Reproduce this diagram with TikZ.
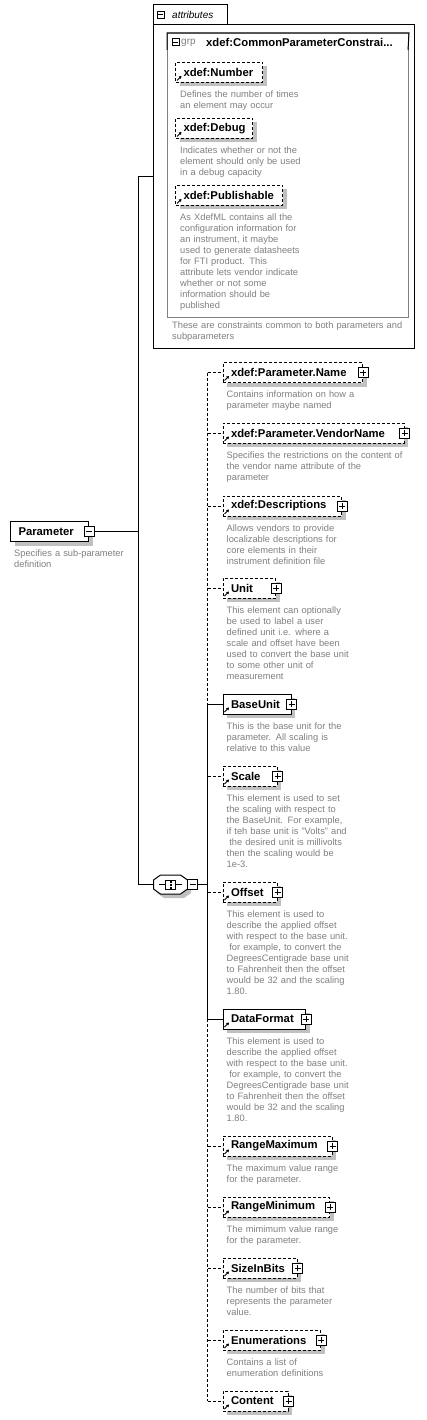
\documentclass[tikz,border=0pt]{standalone}
\usepackage{fontspec}
\setmainfont{Liberation Sans}
\usetikzlibrary{arrows.meta,shadows}
\definecolor{descgray}{RGB}{128,128,128}
\definecolor{shadowgray}{RGB}{192,192,192}
\newcommand\labfont{\fontsize{11.3pt}{13pt}\selectfont\bfseries}
\newcommand\descfont{\fontsize{9.3pt}{11pt}\selectfont}
\tikzset{
  conn/.style={line width=1pt, black},
  optconn/.style={conn, dash pattern=on 3pt off 2pt},
  elbox/.style={draw, line width=1pt, fill=white, anchor=north west, minimum height=20pt,
    inner xsep=8pt, inner ysep=0pt, align=left, font=\labfont,
    drop shadow={shadow xshift=4pt, shadow yshift=-4pt, fill=shadowgray, opacity=1}},
  reqbox/.style={elbox},
  optbox/.style={elbox, dash pattern=on 3pt off 2pt},
  iconbox/.style={draw, line width=1pt, fill=white, minimum size=10pt, inner sep=0pt},
  iconline/.style={line width=1pt},
  refarrow/.style={line width=1pt, -{Triangle[length=2.5pt,width=3pt]}},
  descnode/.style={anchor=north west, inner sep=0pt, align=left, text width=300pt,
    font=\descfont, text=descgray},
}
\newcommand\xel[6]{%
  \pgfmathsetmacro\xeltw{#5-16}%
  \node[#2, text width=\xeltw pt] (#1) at (#3,#4) {#6};%
  \draw[refarrow] ([xshift=2pt,yshift=2.5pt]#1.south west) -- ++(4.5pt,4.5pt);%
}
\newcommand\xplus[2]{%
  \node[iconbox] (#1) at (#2) {};%
  \draw[iconline] ([xshift=-3pt]#1.center) -- ([xshift=3pt]#1.center)
    ([yshift=-3pt]#1.center) -- ([yshift=3pt]#1.center);%
}
\newcommand\xminus[3][10pt]{%
  \node[iconbox, minimum size=#1] (#2) at (#3) {};%
  \draw[iconline] ([xshift=-0.3*#1]#2.center) -- ([xshift=0.3*#1]#2.center);%
}
\newcommand\xdesc[4]{%
  \node[descnode] (#1) at (#2,#3) {\rule{0pt}{8pt}#4};%
}
\begin{document}
\begin{tikzpicture}[x=1pt,y=-1pt]
\useasboundingbox[fill=white] (0,0) rectangle (426,1420);

% ---------- attributes container ----------
\node[draw, line width=1pt, anchor=north west, minimum width=261pt, minimum height=324pt, inner sep=0pt] (attr) at (153,24) {};
\draw[line width=1pt] (attr.north west) |- (227,5) -- (227,24);
\xminus[7pt]{tabm}{160.5,15}
\node[anchor=west, inner sep=0pt, font=\fontsize{10pt}{12pt}\selectfont\itshape] (tabt) at (172,15) {attributes};

\node[draw=descgray, line width=1pt, anchor=north west, minimum width=241pt, minimum height=284pt, inner sep=0pt] (grp) at (167,33) {};
\draw[line width=1pt] (167,50) -- (grp.north west) -- (grp.north east) -- (408,50);
\xminus[7pt]{grpm}{175.5,42.5}
\node[anchor=west, inner sep=0pt, font=\fontsize{10pt}{12pt}\selectfont, text=descgray] (grpk) at (181,42.5) {grp};
\node[anchor=west, inner sep=0pt, font=\labfont] (grpn) at (206,42.5) {xdef:CommonParameterConstrai...};

\xel{anum}{optbox}{175}{62}{87}{xdef:Number}
\xdesc{dnum}{180}{89.5}{Defines the number of times\\an element may occur}
\xel{adbg}{optbox}{175}{118}{77}{xdef:Debug}
\xdesc{ddbg}{180}{145.5}{Indicates whether or not the\\element should only be used\\in a debug capacity}
\xel{apub}{optbox}{175}{185}{107}{xdef:Publishable}
\xdesc{dpub}{180}{212.5}{As XdefML contains all the\\configuration information for\\an instrument, it maybe\\used to generate datasheets\\for FTI product.  This\\attribute lets vendor indicate\\whether or not some\\information should be\\published}
\xdesc{dattr}{172}{320}{These are constraints common to both parameters and\\subparameters}

% ---------- root ----------
\node[reqbox, text width=62pt, inner xsep=8pt] (root) at (10,521) {Parameter};
\xminus{rootm}{root.east}
\xdesc{droot}{14}{548.5}{Specifies a sub-parameter\\definition}

% ---------- sequence compositor ----------
\node[minimum width=34pt, minimum height=19pt, inner sep=0pt] (seq) at (170.5,884.5) {};
\fill[shadowgray, shift={(3.5,4)}] (160.5,875) -- (180.5,875) -- (187.5,880) -- (187.5,889) -- (180.5,894) -- (160.5,894) -- (153.5,889) -- (153.5,880) -- cycle;
\draw[line width=1pt, fill=white] (160.5,875) -- (180.5,875) -- (187.5,880) -- (187.5,889) -- (180.5,894) -- (160.5,894) -- (153.5,889) -- (153.5,880) -- cycle;
\draw[line width=1pt] (159,884.5) -- (182,884.5);
\draw[line width=1pt, fill=white] (165.5,880) rectangle (175.5,889);
\fill (169.5,880.5) rectangle (171.5,882.5);
\fill (169.5,883.5) rectangle (171.5,885.5);
\fill (169.5,886.5) rectangle (171.5,888.5);
\xminus{seqm}{192.5,884.5}

% ---------- children ----------
\xel{pname}{optbox}{222.5}{362}{139.5}{xdef:Parameter.Name}
\xplus{pnamep}{pname.east}
\xdesc{dpname}{226.5}{389.5}{Contains information on how a\\parameter maybe named}

\xel{vname}{optbox}{222.5}{422.5}{181}{xdef:Parameter.VendorName}
\xplus{vnamep}{vname.east}
\xdesc{dvname}{226.5}{450}{Specifies the restrictions on the content of\\the vendor name attribute of the\\parameter}

\xel{descs}{optbox}{222.5}{495.5}{118.5}{xdef:Descriptions}
\xplus{descsp}{descs.east}
\xdesc{ddescs}{226.5}{523}{Allows vendors to provide\\localizable descriptions for\\core elements in their\\instrument definition file}

\xel{unit}{optbox}{222.5}{577.5}{52.5}{Unit}
\xplus{unitp}{unit.east}
\xdesc{dunit}{226.5}{605}{This element can optionally\\be used to label a user\\defined unit i.e. where a\\scale and offset have been\\used to convert the base unit\\to some other unit of\\measurement}

\xel{baseunit}{reqbox}{222.5}{693.5}{68}{BaseUnit}
\xplus{baseunitp}{baseunit.east}
\xdesc{dbaseunit}{226.5}{721}{This is the base unit for the\\parameter.  All scaling is\\relative to this value}

\xel{scale}{optbox}{222.5}{765.5}{54}{Scale}
\xplus{scalep}{scale.east}
\xdesc{dscale}{226.5}{793}{This element is used to set\\the scaling with respect to\\the BaseUnit.  For example,\\if teh base unit is "Volts" and\\\hspace*{2.6pt}the desired unit is millivolts\\then the scaling would be\\1e-3.}

\xel{offset}{optbox}{222.5}{881.5}{54}{Offset}
\xplus{offsetp}{offset.east}
\xdesc{doffset}{226.5}{909}{This element is used to\\describe the applied offset\\with respect to the base unit.\\\hspace*{2.6pt}for example, to convert the\\DegreesCentigrade base unit\\to Fahrenheit then the offset\\would be 32 and the scaling\\1.80.}

\xel{dataformat}{reqbox}{222.5}{1008.5}{82.5}{DataFormat}
\xplus{dataformatp}{dataformat.east}
\xdesc{ddataformat}{226.5}{1036}{This element is used to\\describe the applied offset\\with respect to the base unit.\\\hspace*{2.6pt}for example, to convert the\\DegreesCentigrade base unit\\to Fahrenheit then the offset\\would be 32 and the scaling\\1.80.}

\xel{rmax}{optbox}{222.5}{1135.5}{109}{RangeMaximum}
\xplus{rmaxp}{rmax.east}
\xdesc{drmax}{226.5}{1163}{The maximum value range\\for the parameter.}

\xel{rmin}{optbox}{222.5}{1196.5}{106.5}{RangeMinimum}
\xplus{rminp}{rmin.east}
\xdesc{drmin}{226.5}{1224}{The mimimum value range\\for the parameter.}

\xel{sizebits}{optbox}{222.5}{1257.5}{74}{SizeInBits}
\xplus{sizebitsp}{sizebits.east}
\xdesc{dsizebits}{226.5}{1285}{The number of bits that\\represents the parameter\\value.}

\xel{enums}{optbox}{222.5}{1329.5}{97.5}{Enumerations}
\xplus{enumsp}{enums.east}
\xdesc{denums}{226.5}{1357}{Contains a list of\\enumeration definitions}

\xel{content}{optbox}{222.5}{1390.5}{65}{Content}
\xplus{contentp}{content.east}

% ---------- connectors ----------
\coordinate (bTop) at (138,177);
\coordinate (bBot) at (138,884.5);
\coordinate (busx) at (207.5,0);
\draw[conn] (rootm.east) -- (rootm.east -| bTop);
\draw[conn] (bTop -| attr.west) -- (bTop) -- (bBot) -- (seq.west);
\draw[conn] (seqm.east) -- (seqm.east -| busx);

\draw[optconn] (pname.west -| busx) -- (baseunit.west -| busx);
\draw[conn] (baseunit.west -| busx) -- (dataformat.west -| busx);
\draw[optconn] (dataformat.west -| busx) -- (content.west -| busx);

\foreach \n in {pname,vname,descs,unit,scale,offset,rmax,rmin,sizebits,enums,content}
  \draw[optconn] (\n.west -| busx) -- (\n.west);
\foreach \n in {baseunit,dataformat}
  \draw[conn] (\n.west -| busx) -- (\n.west);
\end{tikzpicture}
\end{document}
